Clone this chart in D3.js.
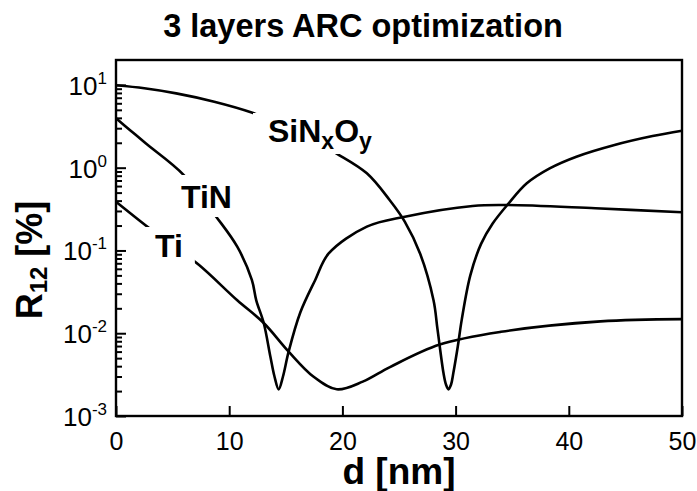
<!DOCTYPE html>
<html>
<head>
<meta charset="utf-8">
<script src="https://cdn.jsdelivr.net/npm/d3@7"></script>
<style>
  html, body { margin: 0; padding: 0; background: #fff; }
  svg { display: block; }
  text { font-family: Arial, "Liberation Sans", Helvetica, sans-serif; fill: #000; }
</style>
</head>
<body>
<svg id="chart" width="697" height="491"></svg>
<script>
// ---- data ----
const titleText = "3 layers ARC optimization";
const xTicks = [0, 10, 20, 30, 40, 50];
const yDecadeExps = [-3, -2, -1, 0, 1];

const sinxoyD = [0, 2.5, 5.32, 8.68, 12.05, 16, 19.46, 22.16, 24.17, 25.52, 26.86, 28.05, 28.4, 28.93, 29.15, 29.37, 29.6, 29.8, 30.2, 30.54, 31.3, 32.25, 33.26, 34.61, 36.29, 38.31, 40.67, 44.04, 47.4, 50];
const sinxoyR = [9.9, 9.1, 7.9, 6.27, 4.61, 2.75, 1.49, 0.855, 0.407, 0.222, 0.092, 0.025, 0.0112, 0.0033, 0.0024, 0.0021, 0.0024, 0.0033, 0.007, 0.0145, 0.05, 0.12, 0.21, 0.36, 0.647, 0.98, 1.357, 1.88, 2.41, 2.8];

const tinD = [0, 1.3, 2.62, 5.99, 8.85, 10.71, 12.0, 12.39, 13.05, 13.64, 14.0, 14.37, 14.75, 15.25, 16.28, 17.6, 18.79, 22.16, 25.52, 31.5, 34.6, 42.35, 50];
const tinR = [3.95, 2.8, 1.97, 0.815, 0.256, 0.111, 0.044, 0.025, 0.0133, 0.0052, 0.003, 0.0021, 0.003, 0.006, 0.0178, 0.044, 0.092, 0.194, 0.256, 0.345, 0.354, 0.323, 0.289];

const tiD = [0, 2.96, 5, 7.34, 10.71, 13.05, 15.25, 17.43, 19.5, 21.8, 24.2, 28.6, 34, 42.8, 50];
const tiR = [0.388, 0.185, 0.115, 0.0667, 0.025, 0.0133, 0.006, 0.003, 0.0021, 0.0026, 0.0039, 0.0073, 0.0104, 0.0139, 0.0148];

const seriesNames = ["SiNxOy", "TiN", "Ti"];

// ---- layout ----
const svg = d3.select("#chart");
const plot = { left: 116, right: 682, top: 60, bottom: 416 };

const x = d3.scaleLinear().domain([0, 50]).range([plot.left, plot.right]);
const y = d3.scaleLog().domain([1e-3, 20]).range([plot.bottom, plot.top]);

// curves
const line = d3.line()
  .x(d => x(d[0]))
  .y(d => y(d[1]))
  .curve(d3.curveCatmullRom.alpha(0.5));

const series = [
  d3.zip(sinxoyD, sinxoyR),
  d3.zip(tinD, tinR),
  d3.zip(tiD, tiR)
];

const gCurves = svg.append("g");
series.forEach(s => {
  gCurves.append("path")
    .attr("d", line(s))
    .attr("fill", "none")
    .attr("stroke", "#000")
    .attr("stroke-width", 2.6)
    .attr("stroke-linejoin", "round");
});

// curve labels with white masks
const labelSpecs = [
  { name: seriesNames[0], x: 268, y: 142, px: 15, pt: 0, pb: 0, parts: [["SiN", 0], ["x", 1], ["O", 0], ["y", 1]] },
  { name: seriesNames[1], x: 181, y: 208, px: 10, pt: 4, pb: 2, parts: [["TiN", 0]] },
  { name: seriesNames[2], x: 155, y: 257, px: 12, pt: 1, pb: 1, parts: [["Ti", 0]] }
];
const gLabels = svg.append("g");
labelSpecs.forEach(spec => {
  const g = gLabels.append("g");
  const rect = g.append("rect").attr("fill", "#fff");
  const t = g.append("text")
    .attr("x", spec.x).attr("y", spec.y)
    .attr("font-size", 32).attr("font-weight", "bold");
  let shift = 0;
  spec.parts.forEach(([s, sub]) => {
    const want = sub ? 7 : 0;
    t.append("tspan")
      .attr("dy", want - shift)
      .attr("font-size", sub ? 23 : 32)
      .text(s);
    shift = want;
  });
  const bb = t.node().getBBox();
  rect.attr("x", bb.x - spec.px).attr("y", bb.y - spec.pt)
    .attr("width", bb.width + 2 * spec.px).attr("height", bb.height + spec.pt + spec.pb);
});

// y axis: major + minor ticks, inward
const minorVals = [];
for (let e = -3; e <= 0; e++) for (let m = 2; m <= 9; m++) minorVals.push(m * Math.pow(10, e));
const majorVals = yDecadeExps.map(e => Math.pow(10, e));

svg.append("g")
  .attr("transform", `translate(${plot.left},0)`)
  .call(d3.axisLeft(y).tickValues(minorVals).tickSize(-6).tickFormat(""))
  .call(g => g.select(".domain").remove())
  .call(g => g.selectAll("line").attr("stroke", "#000").attr("stroke-width", 2));

const yAx = svg.append("g")
  .attr("transform", `translate(${plot.left},0)`)
  .call(d3.axisLeft(y).tickValues(majorVals).tickSize(-10).tickPadding(9).tickFormat(""))
  .call(g => g.select(".domain").remove())
  .call(g => g.selectAll("line").attr("stroke", "#000").attr("stroke-width", 2));

yAx.selectAll(".tick text").each(function(d, i) {
  const t = d3.select(this)
    .attr("font-size", 26)
    .attr("font-family", "Arial, 'Liberation Sans', sans-serif")
    .attr("fill", "#000")
    .attr("dy", "0.36em")
    .attr("text-anchor", "end");
  t.append("tspan").text("10");
  t.append("tspan").attr("dy", -11).attr("font-size", 17).text(String(yDecadeExps[i]));
});

// x axis
svg.append("g")
  .attr("transform", `translate(0,${plot.bottom})`)
  .call(d3.axisBottom(x).tickValues(xTicks).tickSize(-10).tickPadding(16).tickFormat(d3.format("d")))
  .call(g => g.select(".domain").remove())
  .call(g => g.selectAll("line").attr("stroke", "#000").attr("stroke-width", 2))
  .call(g => g.selectAll("text").attr("font-size", 25).attr("fill", "#000")
    .attr("font-family", "Arial, 'Liberation Sans', sans-serif"));

// frame
svg.append("rect")
  .attr("x", plot.left).attr("y", plot.top)
  .attr("width", plot.right - plot.left).attr("height", plot.bottom - plot.top)
  .attr("fill", "none").attr("stroke", "#000").attr("stroke-width", 2.4);

// title
svg.append("text")
  .attr("x", 363).attr("y", 37)
  .attr("text-anchor", "middle")
  .attr("font-size", 32.5).attr("font-weight", "bold")
  .text(titleText);

// axis titles
svg.append("text")
  .attr("x", 399).attr("y", 484)
  .attr("text-anchor", "middle")
  .attr("font-size", 37).attr("font-weight", "bold")
  .text("d [nm]");

const yl = svg.append("text")
  .attr("transform", "translate(42,260) rotate(-90)")
  .attr("text-anchor", "middle")
  .attr("font-size", 36).attr("font-weight", "bold");
yl.append("tspan").text("R");
yl.append("tspan").attr("dy", 5).attr("font-size", 24).text("12");
yl.append("tspan").attr("dy", -5).text(" [%]");
</script>
</body>
</html>
